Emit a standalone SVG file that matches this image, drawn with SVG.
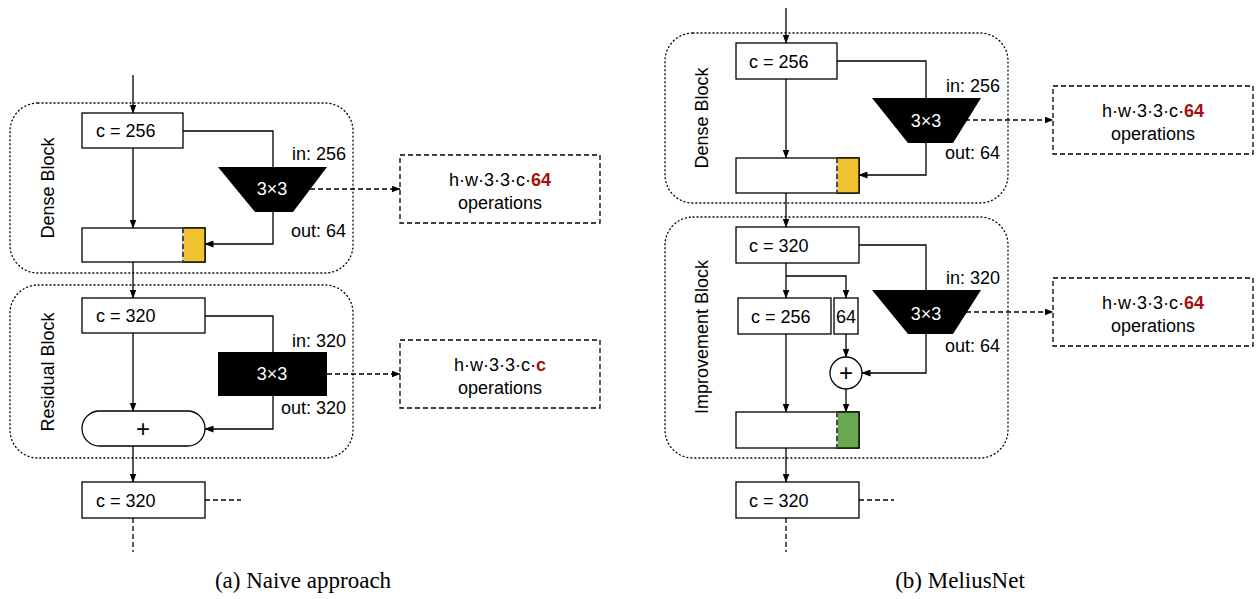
<svg xmlns="http://www.w3.org/2000/svg" width="1256" height="599" viewBox="0 0 1256 599">
<style>
text{font-family:"Liberation Sans",Arial,sans-serif;font-size:18px;fill:#000}
text.cap{font-family:"Liberation Serif","Times New Roman",serif;font-size:23px}
text.plus{font-size:24px;text-anchor:middle}
.box{fill:#fff;stroke:#000;stroke-width:1.3}
.blk{fill:none;stroke:#000;stroke-width:1.3;stroke-dasharray:1 3;stroke-linecap:round}
.ops{fill:#fff;stroke:#000;stroke-width:1.3;stroke-dasharray:5 3}
.ln{fill:none;stroke:#000;stroke-width:1.3}
.dl{fill:none;stroke:#000;stroke-width:1.3;stroke-dasharray:5 3}
.wt{fill:#fff;text-anchor:middle}
.mid{text-anchor:middle}
.end{text-anchor:end}
.red{fill:#a50f0f;font-weight:bold}
</style>
<defs>
<marker id="ah" markerWidth="9" markerHeight="7" refX="8.5" refY="3.5" orient="auto" markerUnits="userSpaceOnUse">
<path d="M0,0 L9,3.5 L0,7 z" fill="#000"/>
</marker>
</defs>

<!-- ===== (a) Naive approach ===== -->
<g id="dense-block-a">
<rect class="blk" x="10" y="103" width="343" height="170" rx="28"/>
<text transform="translate(54,188) rotate(-90)" class="mid">Dense Block</text>
</g>
<g id="residual-block-a">
<rect class="blk" x="10" y="285" width="343" height="173" rx="28"/>
<text transform="translate(54,372) rotate(-90)" class="mid">Residual Block</text>
</g>
<g id="a-c256">
<rect class="box" x="82" y="113" width="101" height="35"/>
<text x="96" y="137">c = 256</text>
</g>
<g id="a-conv1">
<polygon points="218,167 327,167 293,212 255,212" fill="#000"/>
<text x="272" y="195" class="wt">3×3</text>
<text x="346" y="160" class="end">in: 256</text>
<text x="346" y="237" class="end">out: 64</text>
</g>
<g id="a-concat">
<rect class="box" x="82" y="228" width="123" height="34"/>
<rect x="183" y="228" width="22" height="34" fill="#f0c232" stroke="#000" stroke-width="1.3"/>
<line x1="183" y1="228" x2="183" y2="262" stroke="#fff" stroke-width="1.5"/>
<line x1="183" y1="228" x2="183" y2="262" class="dl" stroke-dasharray="4 3"/>
</g>
<g id="a-ops1">
<rect class="ops" x="400" y="155" width="200" height="68"/>
<text x="500" y="186" class="mid">h·w·3·3·c·<tspan class="red">64</tspan></text>
<text x="500" y="209" class="mid">operations</text>
</g>
<g id="a-c320">
<rect class="box" x="82" y="298" width="123" height="35"/>
<text x="96" y="322">c = 320</text>
</g>
<g id="a-conv2">
<rect x="218" y="352" width="109" height="44" fill="#000"/>
<text x="272" y="380" class="wt">3×3</text>
<text x="346" y="347" class="end">in: 320</text>
<text x="346" y="414" class="end">out: 320</text>
</g>
<g id="a-plus">
<rect class="box" x="82" y="411" width="123" height="35" rx="17.5"/>
<text x="143" y="437" class="plus">+</text>
</g>
<g id="a-ops2">
<rect class="ops" x="400" y="340" width="200" height="68"/>
<text x="500" y="371" class="mid">h·w·3·3·c·<tspan class="red">c</tspan></text>
<text x="500" y="394" class="mid">operations</text>
</g>
<g id="a-out">
<rect class="box" x="82" y="482" width="123" height="36"/>
<text x="96" y="507">c = 320</text>
</g>
<text class="cap mid" x="303" y="588">(a) Naive approach</text>

<!-- ===== (b) MeliusNet ===== -->
<g id="dense-block-b">
<rect class="blk" x="665" y="33" width="343" height="170" rx="28"/>
<text transform="translate(708,118) rotate(-90)" class="mid">Dense Block</text>
</g>
<g id="improvement-block-b">
<rect class="blk" x="665" y="217" width="343" height="241" rx="28"/>
<text transform="translate(708,337) rotate(-90)" class="mid">Improvement Block</text>
</g>
<g id="b-c256">
<rect class="box" x="736" y="43" width="101" height="36"/>
<text x="749" y="68">c = 256</text>
</g>
<g id="b-conv1">
<polygon points="872,98 981,98 953,143 908,143" fill="#000"/>
<text x="926" y="127" class="wt">3×3</text>
<text x="1000" y="92" class="end">in: 256</text>
<text x="1000" y="159" class="end">out: 64</text>
</g>
<g id="b-concat">
<rect class="box" x="736" y="158" width="123" height="35"/>
<rect x="837" y="158" width="22" height="35" fill="#f0c232" stroke="#000" stroke-width="1.3"/>
<line x1="837" y1="158" x2="837" y2="193" stroke="#fff" stroke-width="1.5"/>
<line x1="837" y1="158" x2="837" y2="193" class="dl" stroke-dasharray="4 3"/>
</g>
<g id="b-ops1">
<rect class="ops" x="1053" y="86" width="200" height="68"/>
<text x="1153" y="117" class="mid">h·w·3·3·c·<tspan class="red">64</tspan></text>
<text x="1153" y="140" class="mid">operations</text>
</g>
<g id="b-c320">
<rect class="box" x="736" y="227" width="123" height="36"/>
<text x="749" y="252">c = 320</text>
</g>
<g id="b-c256b">
<rect class="box" x="738" y="298" width="93" height="36"/>
<text x="751" y="323">c = 256</text>
</g>
<g id="b-64">
<rect class="box" x="834" y="298" width="24" height="36"/>
<text x="846" y="323" class="mid">64</text>
</g>
<g id="b-conv2">
<polygon points="872,290 981,290 953,334 908,334" fill="#000"/>
<text x="926" y="320" class="wt">3×3</text>
<text x="1000" y="284" class="end">in: 320</text>
<text x="1000" y="352" class="end">out: 64</text>
</g>
<g id="b-plus">
<circle class="box" cx="846" cy="373" r="16"/>
<text x="846" y="381" class="plus">+</text>
</g>
<g id="b-concat2">
<rect class="box" x="736" y="412" width="123" height="36"/>
<rect x="837" y="412" width="22" height="36" fill="#6aa84f" stroke="#000" stroke-width="1.3"/>
<line x1="837" y1="412" x2="837" y2="448" stroke="#fff" stroke-width="1.5"/>
<line x1="837" y1="412" x2="837" y2="448" class="dl" stroke-dasharray="4 3"/>
</g>
<g id="b-ops2">
<rect class="ops" x="1053" y="278" width="200" height="68"/>
<text x="1153" y="309" class="mid">h·w·3·3·c·<tspan class="red">64</tspan></text>
<text x="1153" y="332" class="mid">operations</text>
</g>
<g id="b-out">
<rect class="box" x="736" y="482" width="123" height="36"/>
<text x="749" y="507">c = 320</text>
</g>
<text class="cap mid" x="960" y="588">(b) MeliusNet</text>

<g id="connectors">
<!-- a -->
<line class="ln" x1="133" y1="75" x2="133" y2="113" marker-end="url(#ah)"/>
<line class="ln" x1="133" y1="148" x2="133" y2="228" marker-end="url(#ah)"/>
<polyline class="ln" points="183,131 273,131 273,167"/>
<polyline class="ln" points="273,212 273,244 205,244" marker-end="url(#ah)"/>
<line class="dl" x1="310" y1="189" x2="400" y2="189" marker-end="url(#ah)"/>
<line class="ln" x1="133" y1="262" x2="133" y2="298" marker-end="url(#ah)"/>
<line class="ln" x1="133" y1="333" x2="133" y2="411" marker-end="url(#ah)"/>
<polyline class="ln" points="205,316 273,316 273,352"/>
<polyline class="ln" points="273,396 273,429 205,429" marker-end="url(#ah)"/>
<line class="dl" x1="327" y1="374" x2="400" y2="374" marker-end="url(#ah)"/>
<line class="ln" x1="133" y1="446" x2="133" y2="482" marker-end="url(#ah)"/>
<line class="dl" x1="205" y1="500" x2="241" y2="500"/>
<line class="dl" x1="133" y1="518" x2="133" y2="552"/>
<!-- b -->
<line class="ln" x1="786" y1="8" x2="786" y2="43" marker-end="url(#ah)"/>
<line class="ln" x1="786" y1="79" x2="786" y2="158" marker-end="url(#ah)"/>
<polyline class="ln" points="837,61 926,61 926,98"/>
<polyline class="ln" points="926,143 926,175 859,175" marker-end="url(#ah)"/>
<line class="dl" x1="965" y1="120" x2="1053" y2="120" marker-end="url(#ah)"/>
<line class="ln" x1="786" y1="193" x2="786" y2="227" marker-end="url(#ah)"/>
<polyline class="ln" points="859,245 926,245 926,290"/>
<line class="ln" x1="786" y1="263" x2="786" y2="298" marker-end="url(#ah)"/>
<polyline class="ln" points="786,276 846,276 846,298" marker-end="url(#ah)"/>
<line class="ln" x1="846" y1="334" x2="846" y2="357" marker-end="url(#ah)"/>
<polyline class="ln" points="926,334 926,373 862,373" marker-end="url(#ah)"/>
<line class="ln" x1="846" y1="389" x2="846" y2="412" marker-end="url(#ah)"/>
<line class="ln" x1="786" y1="334" x2="786" y2="412" marker-end="url(#ah)"/>
<line class="dl" x1="966" y1="312" x2="1053" y2="312" marker-end="url(#ah)"/>
<line class="ln" x1="786" y1="448" x2="786" y2="482" marker-end="url(#ah)"/>
<line class="dl" x1="859" y1="500" x2="894" y2="500"/>
<line class="dl" x1="786" y1="518" x2="786" y2="552"/>
</g>
</svg>
